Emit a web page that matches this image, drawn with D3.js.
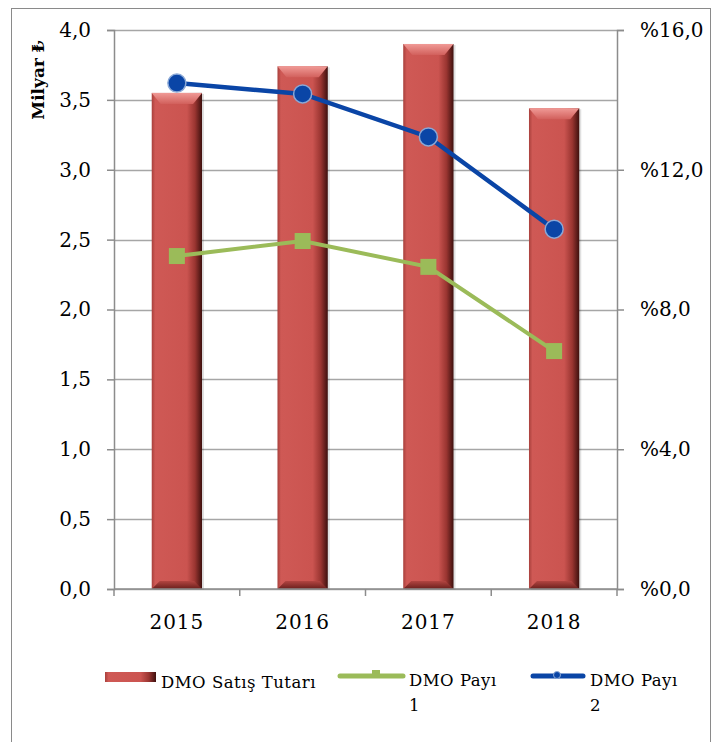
<!DOCTYPE html>
<html lang="tr">
<head>
<meta charset="UTF-8" />
<title>DMO Satış Tutarı</title>
<script src="https://d3js.org/d3.v7.min.js"></script>
<style>
  html, body { margin: 0; padding: 0; background: #fff; }
  svg { display: block; }
  text { font-family: "DejaVu Serif", serif; fill: #000; }
</style>
</head>
<body>
<svg width="713" height="742"></svg>
<script>
const years = ["2015", "2016", "2017", "2018"];
const satis = [3.55, 3.74, 3.90, 3.44];      // Milyar ₺
const pay1 = [9.53, 9.96, 9.22, 6.81];       // %
const pay2 = [14.48, 14.17, 12.94, 10.30];   // %
const leftTicks = [0, 0.5, 1, 1.5, 2, 2.5, 3, 3.5, 4];
const rightTicks = [0, 4, 8, 12, 16];

const svg = d3.select("svg");
const m = { left: 114, right: 617, top: 30, bottom: 589 };

const x = d3.scaleBand().domain(years).range([m.left, m.right]).paddingInner(0.6).paddingOuter(0.3);
const yL = d3.scaleLinear().domain([0, 4]).range([m.bottom, m.top]);
const yR = d3.scaleLinear().domain([0, 16]).range([m.bottom, m.top]);
const fmt = v => d3.format(".1f")(v).replace(".", ",");

// outer frame
svg.append("rect").attr("x", 11.5).attr("y", 8.5).attr("width", 699).attr("height", 740)
  .attr("fill", "none").attr("stroke", "#8a8a8a");

// gradients
const defs = svg.append("defs");
const g1 = defs.append("linearGradient").attr("id", "barG").attr("x1", 0).attr("x2", 1).attr("y1", 0).attr("y2", 0);
[[0, "#a8403c"], [0.07, "#cf5955"], [0.7, "#cb5450"], [0.86, "#9a3531"], [1, "#3e100e"]]
  .forEach(([o, c]) => g1.append("stop").attr("offset", o).attr("stop-color", c));
const g2 = defs.append("linearGradient").attr("id", "topG").attr("x1", 0).attr("x2", 0).attr("y1", 0).attr("y2", 1);
[[0, "#f09a96"], [1, "#d2605c"]].forEach(([o, c]) => g2.append("stop").attr("offset", o).attr("stop-color", c));
const g3 = defs.append("linearGradient").attr("id", "botG").attr("x1", 0).attr("x2", 0).attr("y1", 0).attr("y2", 1);
[[0, "#b24541"], [1, "#6a1f1c"]].forEach(([o, c]) => g3.append("stop").attr("offset", o).attr("stop-color", c));

// gridlines
svg.append("g").selectAll("line").data(leftTicks).join("line")
  .attr("x1", m.left).attr("x2", m.right)
  .attr("y1", d => Math.round(yL(d)) + 0.5).attr("y2", d => Math.round(yL(d)) + 0.5)
  .attr("stroke", "#a6a6a6").attr("stroke-width", 1.5);

// bars
const bw = x.bandwidth();
const bars = svg.append("g").selectAll("g").data(years).join("g");
bars.append("rect")
  .attr("x", d => x(d) + 2).attr("y", (d, i) => yL(satis[i]) + 1)
  .attr("width", bw).attr("height", (d, i) => yL(0) - yL(satis[i]))
  .attr("fill", "#000").attr("opacity", 0.12);
bars.append("rect")
  .attr("x", d => x(d)).attr("y", (d, i) => yL(satis[i]))
  .attr("width", bw).attr("height", (d, i) => yL(0) - yL(satis[i]))
  .attr("fill", "url(#barG)");
bars.append("path")
  .attr("d", (d, i) => {
    const x0 = x(d), t = yL(satis[i]);
    return `M${x0},${t}L${x0 + bw},${t}L${x0 + bw - 9},${t + 11}L${x0 + 9},${t + 11}Z`;
  })
  .attr("fill", "url(#topG)");
bars.append("path")
  .attr("d", d => {
    const x0 = x(d), b = yL(0);
    return `M${x0},${b}L${x0 + bw},${b}L${x0 + bw - 8},${b - 8}L${x0 + 8},${b - 8}Z`;
  })
  .attr("fill", "url(#botG)");

// axes
const axL = svg.append("g").attr("transform", `translate(${m.left},0)`)
  .call(d3.axisLeft(yL).tickValues(leftTicks).tickFormat(fmt).tickSize(7).tickPadding(16));
const axR = svg.append("g").attr("transform", `translate(${m.right},0)`)
  .call(d3.axisRight(yR).tickValues(rightTicks).tickFormat(d => "%" + fmt(d)).tickSize(7).tickPadding(16));
const axB = svg.append("g").attr("transform", `translate(0,${m.bottom})`)
  .call(d3.axisBottom(x).tickSize(0).tickPadding(26));
[axL, axR, axB].forEach(a => {
  a.select(".domain").attr("stroke", "#8c8c8c").attr("stroke-width", 1.5);
  a.selectAll(".tick line").attr("stroke", "#8c8c8c").attr("stroke-width", 1.5);
  a.selectAll("text").style("font-family", "DejaVu Serif").style("font-size", "20px").attr("fill", "#000");
});
axB.select(".domain").attr("d", `M${m.left},0H${m.right}`);
axB.selectAll("text").attr("letter-spacing", "1px");
// category separators
const step = x.step();
svg.append("g").selectAll("line").data(d3.range(years.length + 1)).join("line")
  .attr("x1", i => m.left + i * step).attr("x2", i => m.left + i * step)
  .attr("y1", m.bottom).attr("y2", m.bottom + 7)
  .attr("stroke", "#8c8c8c").attr("stroke-width", 1.5);

// axis title
svg.append("text").attr("transform", "translate(44,80) rotate(-90)")
  .attr("text-anchor", "middle").style("font-weight", "bold").style("font-size", "17px")
  .style("font-family", "DejaVu Serif").text("Milyar ₺");

// lines
const cx = d => x(d) + bw / 2;
const line = d3.line();
svg.append("path").datum(years.map((d, i) => [cx(d), yR(pay1[i])]))
  .attr("d", line).attr("fill", "none").attr("stroke", "#9bbb59").attr("stroke-width", 4);
svg.append("g").selectAll("rect").data(years).join("rect")
  .attr("x", d => cx(d) - 8).attr("y", (d, i) => yR(pay1[i]) - 8)
  .attr("width", 16).attr("height", 16).attr("fill", "#9bbb59");

svg.append("path").datum(years.map((d, i) => [cx(d), yR(pay2[i])]))
  .attr("d", line).attr("fill", "none").attr("stroke", "#0a45a6").attr("stroke-width", 4.5);
svg.append("g").selectAll("circle").data(years).join("circle")
  .attr("cx", cx).attr("cy", (d, i) => yR(pay2[i])).attr("r", 9)
  .attr("fill", "#0a45a6").attr("stroke", "#8aa8d6").attr("stroke-width", 1.5);

// legend
const lg = svg.append("g");
lg.append("rect").attr("x", 105).attr("y", 672).attr("width", 51).attr("height", 10).attr("fill", "url(#barG)");
lg.append("text").attr("x", 161).attr("y", 688).style("font-size", "16.5px").attr("letter-spacing", "0.5px").text("DMO Satış Tutarı");

lg.append("line").attr("x1", 340).attr("x2", 403).attr("y1", 676).attr("y2", 676)
  .attr("stroke", "#9bbb59").attr("stroke-width", 5).attr("stroke-linecap", "round");
lg.append("rect").attr("x", 372).attr("y", 670).attr("width", 8).attr("height", 6).attr("fill", "#9bbb59");
lg.append("text").attr("x", 409).attr("y", 686).style("font-size", "16.5px").attr("letter-spacing", "0.5px").text("DMO Payı");
lg.append("text").attr("x", 409).attr("y", 711).style("font-size", "16.5px").text("1");

lg.append("line").attr("x1", 533).attr("x2", 583).attr("y1", 676).attr("y2", 676)
  .attr("stroke", "#0a45a6").attr("stroke-width", 5).attr("stroke-linecap", "round");
lg.append("circle").attr("cx", 557).attr("cy", 675).attr("r", 3.5)
  .attr("fill", "#0a45a6").attr("stroke", "#8aa8d6").attr("stroke-width", 1);
lg.append("text").attr("x", 590).attr("y", 686).style("font-size", "16.5px").attr("letter-spacing", "0.5px").text("DMO Payı");
lg.append("text").attr("x", 590).attr("y", 711).style("font-size", "16.5px").text("2");
</script>
</body>
</html>
